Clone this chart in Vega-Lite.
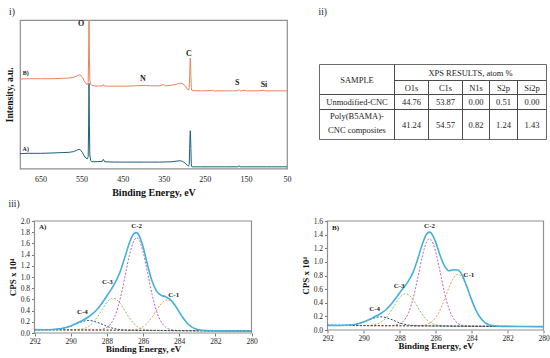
{
  "$schema": "https://vega.github.io/schema/vega-lite/v6.json",
  "padding": {"left": 3, "top": 5, "right": 2, "bottom": 2},
  "background": "white",
  "config": {
    "font": "Liberation Serif",
    "view": {"stroke": "#8f8f8f", "strokeWidth": 1.2},
    "axis": {"domain": false, "grid": false, "labelFont": "Liberation Serif", "titleFont": "Liberation Serif", "labelColor": "#222", "titleColor": "#111", "tickColor": "#777", "tickSize": 3, "labelFontSize": 8, "titleFontSize": 9.5, "titleFontWeight": "bold", "labelOverlap": false, "labelFlush": false, "labelBound": false},
    "title": {"font": "Liberation Serif", "fontSize": 9.5, "fontWeight": "normal", "anchor": "start", "frame": "group", "color": "#222"}
  },
  "datasets": {
    "survey": [
      {"s":"B","be":700,"i":265},{"s":"B","be":680,"i":266},{"s":"B","be":650,"i":266},{"s":"B","be":620,"i":266},{"s":"B","be":600,"i":267},{"s":"B","be":580,"i":268},{"s":"B","be":570,"i":270},{"s":"B","be":562,"i":274},{"s":"B","be":556,"i":278},{"s":"B","be":552,"i":276},{"s":"B","be":548,"i":270},{"s":"B","be":544,"i":260},{"s":"B","be":540,"i":252},{"s":"B","be":536,"i":249},{"s":"B","be":534,"i":255},{"s":"B","be":533,"i":330},{"s":"B","be":532,"i":460},{"s":"B","be":531,"i":330},{"s":"B","be":530,"i":262},{"s":"B","be":528,"i":250},{"s":"B","be":525,"i":246},{"s":"B","be":515,"i":244},{"s":"B","be":500,"i":245},{"s":"B","be":497,"i":249},{"s":"B","be":494,"i":244},{"s":"B","be":470,"i":244},{"s":"B","be":440,"i":244},{"s":"B","be":420,"i":245},{"s":"B","be":400,"i":246},{"s":"B","be":380,"i":245},{"s":"B","be":360,"i":245},{"s":"B","be":353,"i":248},{"s":"B","be":349,"i":247},{"s":"B","be":345,"i":245},{"s":"B","be":330,"i":247},{"s":"B","be":318,"i":250},{"s":"B","be":310,"i":253},{"s":"B","be":304,"i":251},{"s":"B","be":298,"i":245},{"s":"B","be":293,"i":236},{"s":"B","be":290,"i":232},{"s":"B","be":288,"i":240},{"s":"B","be":287,"i":275},{"s":"B","be":286,"i":310},{"s":"B","be":285.5,"i":327},{"s":"B","be":285,"i":320},{"s":"B","be":284,"i":275},{"s":"B","be":283,"i":240},{"s":"B","be":282,"i":232},{"s":"B","be":280,"i":231},{"s":"B","be":260,"i":230},{"s":"B","be":233,"i":231},{"s":"B","be":230,"i":232},{"s":"B","be":227,"i":230},{"s":"B","be":200,"i":230},{"s":"B","be":180,"i":230},{"s":"B","be":170,"i":231},{"s":"B","be":167,"i":234},{"s":"B","be":164,"i":230},{"s":"B","be":152,"i":232},{"s":"B","be":148,"i":230},{"s":"B","be":120,"i":230},{"s":"B","be":106,"i":232},{"s":"B","be":103,"i":230},{"s":"B","be":80,"i":230},{"s":"B","be":50,"i":230},
      {"s":"A","be":700,"i":44},{"s":"A","be":680,"i":45},{"s":"A","be":650,"i":45},{"s":"A","be":620,"i":46},{"s":"A","be":600,"i":47},{"s":"A","be":580,"i":48},{"s":"A","be":570,"i":50},{"s":"A","be":562,"i":54},{"s":"A","be":556,"i":57},{"s":"A","be":552,"i":54},{"s":"A","be":548,"i":47},{"s":"A","be":544,"i":38},{"s":"A","be":540,"i":31},{"s":"A","be":536,"i":29},{"s":"A","be":534,"i":35},{"s":"A","be":533,"i":120},{"s":"A","be":532,"i":252},{"s":"A","be":531,"i":130},{"s":"A","be":530,"i":40},{"s":"A","be":528,"i":24},{"s":"A","be":525,"i":20},{"s":"A","be":515,"i":20},{"s":"A","be":500,"i":21},{"s":"A","be":497,"i":27},{"s":"A","be":494,"i":20},{"s":"A","be":470,"i":19},{"s":"A","be":440,"i":19},{"s":"A","be":400,"i":19},{"s":"A","be":360,"i":19},{"s":"A","be":330,"i":20},{"s":"A","be":318,"i":22},{"s":"A","be":310,"i":23},{"s":"A","be":304,"i":21},{"s":"A","be":298,"i":16},{"s":"A","be":293,"i":10},{"s":"A","be":290,"i":7},{"s":"A","be":288,"i":12},{"s":"A","be":287,"i":60},{"s":"A","be":286,"i":100},{"s":"A","be":285.5,"i":112},{"s":"A","be":285,"i":105},{"s":"A","be":284,"i":60},{"s":"A","be":283,"i":15},{"s":"A","be":282,"i":6},{"s":"A","be":280,"i":5},{"s":"A","be":260,"i":5},{"s":"A","be":200,"i":5},{"s":"A","be":170,"i":5},{"s":"A","be":167,"i":8},{"s":"A","be":164,"i":5},{"s":"A","be":100,"i":5},{"s":"A","be":50,"i":5}
    ],
    "surveyLabels": [
      {"t":"O","be":551,"i":427,"fs":8},{"t":"N","be":401,"i":265,"fs":8},{"t":"C","be":289,"i":339,"fs":8},{"t":"S","be":171,"i":253,"fs":8},{"t":"Si","be":106,"i":247,"fs":8},{"t":"B)","be":686,"i":284,"fs":6},{"t":"A)","be":686,"i":59,"fs":6}
    ],
    "table": [
      {"t":"SAMPLE","b":1,"x0":0,"x1":75,"y0":0,"y1":30},
      {"t":"XPS RESULTS, atom %","b":1,"x0":75,"x1":227,"y0":0,"y1":16},
      {"t":"O1s","b":1,"x0":75,"x1":109,"y0":16,"y1":30},
      {"t":"C1s","b":1,"x0":109,"x1":143,"y0":16,"y1":30},
      {"t":"N1s","b":1,"x0":143,"x1":170,"y0":16,"y1":30},
      {"t":"S2p","b":1,"x0":170,"x1":198,"y0":16,"y1":30},
      {"t":"Si2p","b":1,"x0":198,"x1":227,"y0":16,"y1":30},
      {"t":"Unmodified-CNC","b":1,"x0":0,"x1":75,"y0":30,"y1":45},
      {"t":"44.76","b":1,"x0":75,"x1":109,"y0":30,"y1":45},
      {"t":"53.87","b":1,"x0":109,"x1":143,"y0":30,"y1":45},
      {"t":"0.00","b":1,"x0":143,"x1":170,"y0":30,"y1":45},
      {"t":"0.51","b":1,"x0":170,"x1":198,"y0":30,"y1":45},
      {"t":"0.00","b":1,"x0":198,"x1":227,"y0":30,"y1":45},
      {"t":"","b":1,"x0":0,"x1":75,"y0":45,"y1":75},
      {"t":"Poly(B5AMA)-","b":0,"x0":0,"x1":75,"y0":45,"y1":58},
      {"t":"CNC composites","b":0,"x0":0,"x1":75,"y0":58,"y1":72},
      {"t":"41.24","b":1,"x0":75,"x1":109,"y0":45,"y1":75},
      {"t":"54.57","b":1,"x0":109,"x1":143,"y0":45,"y1":75},
      {"t":"0.82","b":1,"x0":143,"x1":170,"y0":45,"y1":75},
      {"t":"1.24","b":1,"x0":170,"x1":198,"y0":45,"y1":75},
      {"t":"1.43","b":1,"x0":198,"x1":227,"y0":45,"y1":75}
    ],
    "frames": [
      {"p":"A","x":292,"x2":280,"y":0,"y2":2},
      {"p":"B","x":292,"x2":280,"y":0,"y2":1.6}
    ],
    "xps": [
      {"p":"A","s":"T","x":292,"y":0.06},{"p":"A","s":"T","x":291.5,"y":0.059},{"p":"A","s":"T","x":291,"y":0.062},{"p":"A","s":"T","x":290.5,"y":0.079},{"p":"A","s":"T","x":290,"y":0.125},{"p":"A","s":"T","x":289.5,"y":0.2},{"p":"A","s":"T","x":289,"y":0.29},{"p":"A","s":"T","x":288.5,"y":0.434},{"p":"A","s":"T","x":288,"y":0.661},{"p":"A","s":"T","x":287.75,"y":0.784},{"p":"A","s":"T","x":287.5,"y":0.923},{"p":"A","s":"T","x":287.25,"y":1.108},{"p":"A","s":"T","x":287,"y":1.355},{"p":"A","s":"T","x":286.75,"y":1.612},{"p":"A","s":"T","x":286.5,"y":1.777},{"p":"A","s":"T","x":286.35,"y":1.793},{"p":"A","s":"T","x":286.25,"y":1.76},{"p":"A","s":"T","x":286,"y":1.544},{"p":"A","s":"T","x":285.75,"y":1.217},{"p":"A","s":"T","x":285.5,"y":0.927},{"p":"A","s":"T","x":285.25,"y":0.747},{"p":"A","s":"T","x":285,"y":0.675},{"p":"A","s":"T","x":284.75,"y":0.647},{"p":"A","s":"T","x":284.5,"y":0.599},{"p":"A","s":"T","x":284.25,"y":0.504},{"p":"A","s":"T","x":284,"y":0.377},{"p":"A","s":"T","x":283.75,"y":0.254},{"p":"A","s":"T","x":283.5,"y":0.157},{"p":"A","s":"T","x":283,"y":0.063},{"p":"A","s":"T","x":282.5,"y":0.042},{"p":"A","s":"T","x":282,"y":0.039},{"p":"A","s":"T","x":281,"y":0.037},{"p":"A","s":"T","x":280,"y":0.035},
      {"p":"A","s":"C-4","x":292,"y":0.06},{"p":"A","s":"C-4","x":291,"y":0.062},{"p":"A","s":"C-4","x":290.5,"y":0.079},{"p":"A","s":"C-4","x":290,"y":0.124},{"p":"A","s":"C-4","x":289.5,"y":0.19},{"p":"A","s":"C-4","x":289,"y":0.224},{"p":"A","s":"C-4","x":288.5,"y":0.188},{"p":"A","s":"C-4","x":288,"y":0.12},{"p":"A","s":"C-4","x":287.75,"y":0.092},{"p":"A","s":"C-4","x":287.5,"y":0.073},{"p":"A","s":"C-4","x":287.25,"y":0.061},{"p":"A","s":"C-4","x":287,"y":0.054},{"p":"A","s":"C-4","x":286.5,"y":0.049},{"p":"A","s":"C-4","x":280,"y":0.035},
      {"p":"A","s":"C-2","x":292,"y":0.06},{"p":"A","s":"C-2","x":289,"y":0.054},{"p":"A","s":"C-2","x":288.5,"y":0.057},{"p":"A","s":"C-2","x":288,"y":0.1},{"p":"A","s":"C-2","x":287.75,"y":0.18},{"p":"A","s":"C-2","x":287.5,"y":0.345},{"p":"A","s":"C-2","x":287.25,"y":0.626},{"p":"A","s":"C-2","x":287,"y":1.003},{"p":"A","s":"C-2","x":286.75,"y":1.39},{"p":"A","s":"C-2","x":286.5,"y":1.648},{"p":"A","s":"C-2","x":286.35,"y":1.698},{"p":"A","s":"C-2","x":286.25,"y":1.678},{"p":"A","s":"C-2","x":286,"y":1.457},{"p":"A","s":"C-2","x":285.75,"y":1.077},{"p":"A","s":"C-2","x":285.5,"y":0.691},{"p":"A","s":"C-2","x":285.25,"y":0.388},{"p":"A","s":"C-2","x":285,"y":0.199},{"p":"A","s":"C-2","x":284.75,"y":0.104},{"p":"A","s":"C-2","x":284.5,"y":0.063},{"p":"A","s":"C-2","x":284,"y":0.044},{"p":"A","s":"C-2","x":282,"y":0.039},{"p":"A","s":"C-2","x":280,"y":0.035},
      {"p":"A","s":"C-1","x":292,"y":0.06},{"p":"A","s":"C-1","x":288,"y":0.052},{"p":"A","s":"C-1","x":287,"y":0.051},{"p":"A","s":"C-1","x":286.5,"y":0.058},{"p":"A","s":"C-1","x":286,"y":0.111},{"p":"A","s":"C-1","x":285.75,"y":0.179},{"p":"A","s":"C-1","x":285.5,"y":0.28},{"p":"A","s":"C-1","x":285.25,"y":0.405},{"p":"A","s":"C-1","x":285,"y":0.521},{"p":"A","s":"C-1","x":284.75,"y":0.588},{"p":"A","s":"C-1","x":284.65,"y":0.595},{"p":"A","s":"C-1","x":284.5,"y":0.58},{"p":"A","s":"C-1","x":284.25,"y":0.499},{"p":"A","s":"C-1","x":284,"y":0.377},{"p":"A","s":"C-1","x":283.75,"y":0.254},{"p":"A","s":"C-1","x":283.5,"y":0.157},{"p":"A","s":"C-1","x":283,"y":0.063},{"p":"A","s":"C-1","x":282.5,"y":0.042},{"p":"A","s":"C-1","x":282,"y":0.039},{"p":"A","s":"C-1","x":280,"y":0.035},
      {"p":"A","s":"C-3","x":292,"y":0.06},{"p":"A","s":"C-3","x":290,"y":0.057},{"p":"A","s":"C-3","x":289.5,"y":0.065},{"p":"A","s":"C-3","x":289,"y":0.12},{"p":"A","s":"C-3","x":288.75,"y":0.19},{"p":"A","s":"C-3","x":288.5,"y":0.295},{"p":"A","s":"C-3","x":288.25,"y":0.424},{"p":"A","s":"C-3","x":288,"y":0.545},{"p":"A","s":"C-3","x":287.75,"y":0.614},{"p":"A","s":"C-3","x":287.65,"y":0.62},{"p":"A","s":"C-3","x":287.5,"y":0.606},{"p":"A","s":"C-3","x":287.25,"y":0.521},{"p":"A","s":"C-3","x":287,"y":0.396},{"p":"A","s":"C-3","x":286.75,"y":0.267},{"p":"A","s":"C-3","x":286.5,"y":0.168},{"p":"A","s":"C-3","x":286,"y":0.07},{"p":"A","s":"C-3","x":285.5,"y":0.048},{"p":"A","s":"C-3","x":284,"y":0.043},{"p":"A","s":"C-3","x":280,"y":0.035},
      {"p":"A","s":"BL","x":292,"y":0.06},{"p":"A","s":"BL","x":280,"y":0.035},
      {"p":"B","s":"T","x":292,"y":0.068},{"p":"B","s":"T","x":291.5,"y":0.067},{"p":"B","s":"T","x":291,"y":0.07},{"p":"B","s":"T","x":290.5,"y":0.081},{"p":"B","s":"T","x":290,"y":0.117},{"p":"B","s":"T","x":289.5,"y":0.178},{"p":"B","s":"T","x":289,"y":0.25},{"p":"B","s":"T","x":288.75,"y":0.297},{"p":"B","s":"T","x":288.5,"y":0.366},{"p":"B","s":"T","x":288.25,"y":0.45},{"p":"B","s":"T","x":288,"y":0.542},{"p":"B","s":"T","x":287.75,"y":0.629},{"p":"B","s":"T","x":287.5,"y":0.72},{"p":"B","s":"T","x":287.25,"y":0.846},{"p":"B","s":"T","x":287,"y":1.031},{"p":"B","s":"T","x":286.75,"y":1.245},{"p":"B","s":"T","x":286.5,"y":1.406},{"p":"B","s":"T","x":286.33,"y":1.437},{"p":"B","s":"T","x":286.25,"y":1.426},{"p":"B","s":"T","x":286,"y":1.297},{"p":"B","s":"T","x":285.75,"y":1.099},{"p":"B","s":"T","x":285.5,"y":0.941},{"p":"B","s":"T","x":285.25,"y":0.87},{"p":"B","s":"T","x":285,"y":0.885},{"p":"B","s":"T","x":284.75,"y":0.88},{"p":"B","s":"T","x":284.5,"y":0.795},{"p":"B","s":"T","x":284.25,"y":0.63},{"p":"B","s":"T","x":284,"y":0.446},{"p":"B","s":"T","x":283.75,"y":0.289},{"p":"B","s":"T","x":283.5,"y":0.175},{"p":"B","s":"T","x":283.25,"y":0.108},{"p":"B","s":"T","x":283,"y":0.074},{"p":"B","s":"T","x":282.5,"y":0.056},{"p":"B","s":"T","x":282,"y":0.053},{"p":"B","s":"T","x":281,"y":0.052},{"p":"B","s":"T","x":280,"y":0.05},
      {"p":"B","s":"C-2","x":292,"y":0.068},{"p":"B","s":"C-2","x":289,"y":0.064},{"p":"B","s":"C-2","x":288.5,"y":0.065},{"p":"B","s":"C-2","x":288,"y":0.089},{"p":"B","s":"C-2","x":287.75,"y":0.139},{"p":"B","s":"C-2","x":287.5,"y":0.252},{"p":"B","s":"C-2","x":287.25,"y":0.456},{"p":"B","s":"C-2","x":287,"y":0.746},{"p":"B","s":"C-2","x":286.75,"y":1.062},{"p":"B","s":"C-2","x":286.5,"y":1.29},{"p":"B","s":"C-2","x":286.33,"y":1.339},{"p":"B","s":"C-2","x":286.25,"y":1.328},{"p":"B","s":"C-2","x":286,"y":1.159},{"p":"B","s":"C-2","x":285.75,"y":0.86},{"p":"B","s":"C-2","x":285.5,"y":0.549},{"p":"B","s":"C-2","x":285.25,"y":0.311},{"p":"B","s":"C-2","x":285,"y":0.167},{"p":"B","s":"C-2","x":284.75,"y":0.097},{"p":"B","s":"C-2","x":284.5,"y":0.069},{"p":"B","s":"C-2","x":284,"y":0.056},{"p":"B","s":"C-2","x":280,"y":0.05},
      {"p":"B","s":"C-1","x":292,"y":0.068},{"p":"B","s":"C-1","x":287.5,"y":0.061},{"p":"B","s":"C-1","x":287,"y":0.062},{"p":"B","s":"C-1","x":286.75,"y":0.067},{"p":"B","s":"C-1","x":286.5,"y":0.08},{"p":"B","s":"C-1","x":286.25,"y":0.112},{"p":"B","s":"C-1","x":286,"y":0.179},{"p":"B","s":"C-1","x":285.75,"y":0.291},{"p":"B","s":"C-1","x":285.5,"y":0.448},{"p":"B","s":"C-1","x":285.25,"y":0.623},{"p":"B","s":"C-1","x":285,"y":0.763},{"p":"B","s":"C-1","x":284.75,"y":0.817},{"p":"B","s":"C-1","x":284.5,"y":0.763},{"p":"B","s":"C-1","x":284.25,"y":0.621},{"p":"B","s":"C-1","x":284,"y":0.446},{"p":"B","s":"C-1","x":283.75,"y":0.289},{"p":"B","s":"C-1","x":283.5,"y":0.175},{"p":"B","s":"C-1","x":283.25,"y":0.108},{"p":"B","s":"C-1","x":283,"y":0.074},{"p":"B","s":"C-1","x":282.5,"y":0.056},{"p":"B","s":"C-1","x":280,"y":0.05},
      {"p":"B","s":"C-3","x":292,"y":0.068},{"p":"B","s":"C-3","x":290,"y":0.066},{"p":"B","s":"C-3","x":289.5,"y":0.073},{"p":"B","s":"C-3","x":289,"y":0.12},{"p":"B","s":"C-3","x":288.75,"y":0.178},{"p":"B","s":"C-3","x":288.5,"y":0.267},{"p":"B","s":"C-3","x":288.25,"y":0.373},{"p":"B","s":"C-3","x":288,"y":0.472},{"p":"B","s":"C-3","x":287.75,"y":0.527},{"p":"B","s":"C-3","x":287.66,"y":0.531},{"p":"B","s":"C-3","x":287.5,"y":0.517},{"p":"B","s":"C-3","x":287.25,"y":0.446},{"p":"B","s":"C-3","x":287,"y":0.341},{"p":"B","s":"C-3","x":286.75,"y":0.236},{"p":"B","s":"C-3","x":286.5,"y":0.156},{"p":"B","s":"C-3","x":286.25,"y":0.104},{"p":"B","s":"C-3","x":286,"y":0.077},{"p":"B","s":"C-3","x":285.75,"y":0.064},{"p":"B","s":"C-3","x":285.5,"y":0.06},{"p":"B","s":"C-3","x":280,"y":0.05},
      {"p":"B","s":"C-4","x":292,"y":0.068},{"p":"B","s":"C-4","x":291,"y":0.07},{"p":"B","s":"C-4","x":290.5,"y":0.081},{"p":"B","s":"C-4","x":290,"y":0.116},{"p":"B","s":"C-4","x":289.5,"y":0.169},{"p":"B","s":"C-4","x":289.04,"y":0.194},{"p":"B","s":"C-4","x":288.5,"y":0.16},{"p":"B","s":"C-4","x":288,"y":0.105},{"p":"B","s":"C-4","x":287.75,"y":0.085},{"p":"B","s":"C-4","x":287.5,"y":0.073},{"p":"B","s":"C-4","x":287.25,"y":0.066},{"p":"B","s":"C-4","x":287,"y":0.062},{"p":"B","s":"C-4","x":280,"y":0.05},
      {"p":"B","s":"BL","x":292,"y":0.068},{"p":"B","s":"BL","x":280,"y":0.05}
    ],
    "xpsLabels": [
      {"p":"A","t":"A)","x":291.55,"y":1.9},{"p":"A","t":"C-2","x":286.35,"y":1.91},{"p":"A","t":"C-3","x":287.97,"y":0.91},{"p":"A","t":"C-1","x":284.3,"y":0.68},{"p":"A","t":"C-4","x":289.35,"y":0.38},
      {"p":"B","t":"B)","x":291.55,"y":1.5},{"p":"B","t":"C-2","x":286.33,"y":1.52},{"p":"B","t":"C-3","x":288.02,"y":0.64},{"p":"B","t":"C-1","x":284.15,"y":0.81},{"p":"B","t":"C-4","x":289.38,"y":0.31}
    ]
  },
  "columns": 2,
  "align": "each",
  "bounds": "flush",
  "spacing": {"row": 52, "column": 32.5},
  "concat": [
    {
      "width": 267, "height": 148.5,
      "title": {"text": "i)", "dx": -11, "frame": "group"},
      "encoding": {
        "x": {"field": "be", "type": "quantitative", "scale": {"domain": [700, 50], "nice": false, "zero": false}, "axis": {"values": [650, 550, 450, 350, 250, 150, 50], "title": "Binding Energy, eV", "ticks": false, "labelPadding": 7, "titlePadding": 4, "titleFontSize": 10, "labelOverlap": false, "labelFlush": false}},
        "y": {"field": "i", "type": "quantitative", "scale": {"domain": [0, 440], "nice": false, "zero": false}, "axis": {"labels": false, "ticks": false, "title": "Intensity, a.u.", "titlePadding": 6, "titleFontSize": 9.5}}
      },
      "layer": [
        {
          "data": {"name": "survey"},
          "mark": {"type": "line", "strokeWidth": 1, "clip": true},
          "encoding": {
            "color": {"field": "s", "type": "nominal", "scale": {"domain": ["A", "B", "C-1", "C-2", "C-3", "C-4", "BL", "T"], "range": ["#1d5f7c", "#e8845c", "#f59a57", "#c05fc0", "#8fbf5a", "#1f4e79", "#444444", "#44b0dc"]}, "legend": null}
          }
        },
        {
          "data": {"name": "surveyLabels"},
          "mark": {"type": "text", "fontWeight": "bold", "color": "#222"},
          "encoding": {
            "text": {"field": "t"},
            "size": {"field": "fs", "type": "quantitative", "scale": null}
          }
        }
      ]
    },
    {
      "width": 227, "height": 148.5,
      "title": {"text": "ii)", "dx": -1, "frame": "group"},
      "view": {"stroke": null},
      "data": {"name": "table"},
      "transform": [
        {"calculate": "(datum.x0+datum.x1)/2", "as": "xc"},
        {"calculate": "(datum.y0+datum.y1)/2", "as": "yc"}
      ],
      "layer": [
        {
          "transform": [{"filter": "datum.b == 1"}],
          "mark": {"type": "rect", "fill": "transparent", "stroke": "#444", "strokeWidth": 0.8},
          "encoding": {
            "x": {"field": "x0", "type": "quantitative", "scale": {"domain": [0, 227], "nice": false, "zero": false}, "axis": null},
            "x2": {"field": "x1"},
            "y": {"field": "y0", "type": "quantitative", "scale": {"domain": [104, -44.5], "nice": false, "zero": false}, "axis": null},
            "y2": {"field": "y1"}
          }
        },
        {
          "mark": {"type": "text", "fontSize": 8.5, "color": "#222", "baseline": "middle"},
          "encoding": {
            "x": {"field": "xc", "type": "quantitative", "axis": null},
            "y": {"field": "yc", "type": "quantitative", "axis": null},
            "text": {"field": "t"}
          }
        }
      ]
    },
    {
      "width": 231.5, "height": 112,
      "view": {"stroke": null},
      "title": {"text": "iii)", "dx": -11.5, "offset": 9, "frame": "group"},
      "encoding": {
        "x": {"field": "x", "type": "quantitative", "scale": {"domain": [292, 280], "range": [14.5, 231.5], "nice": false, "zero": false}, "axis": {"values": [292, 290, 288, 286, 284, 282, 280], "title": "Binding Energy, eV", "labelPadding": 1, "titlePadding": 0, "labelFontSize": 7.5, "titleFontSize": 9, "labelOverlap": false, "labelFlush": false}},
        "y": {"field": "y", "type": "quantitative", "scale": {"domain": [0, 2], "nice": false, "zero": false}, "axis": {"values": [0, 0.2, 0.4, 0.6, 0.8, 1, 1.2, 1.4, 1.6, 1.8, 2], "format": ".1f", "title": "CPS x 10⁴", "offset": -14.5, "labelPadding": 2, "titlePadding": 3, "labelFontSize": 7.5, "titleFontSize": 9, "labelOverlap": false, "labelFlush": false}}
      },
      "layer": [
        {
          "data": {"name": "frames"},
          "transform": [{"filter": "datum.p == 'A'"}],
          "mark": {"type": "rect", "fill": "transparent", "stroke": "#8f8f8f", "strokeWidth": 1.2},
          "encoding": {"x2": {"field": "x2"}, "y2": {"field": "y2"}}
        },
        {
          "data": {"name": "xps"},
          "transform": [{"filter": "datum.p == 'A' && datum.s != 'T'"}],
          "mark": {"type": "line", "strokeWidth": 1, "strokeDash": [2, 1.6], "interpolate": "monotone"},
          "encoding": {
            "color": {"field": "s", "type": "nominal", "scale": {"domain": ["A", "B", "C-1", "C-2", "C-3", "C-4", "BL", "T"], "range": ["#1d5f7c", "#e8845c", "#f59a57", "#c05fc0", "#8fbf5a", "#1f4e79", "#444444", "#44b0dc"]}, "legend": null}
          }
        },
        {
          "data": {"name": "xps"},
          "transform": [{"filter": "datum.p == 'A' && datum.s == 'T'"}],
          "mark": {"type": "line", "strokeWidth": 1.6, "interpolate": "monotone", "color": "#44b0dc"},
          "encoding": {}
        },
        {
          "data": {"name": "xpsLabels"},
          "transform": [{"filter": "datum.p == 'A'"}],
          "mark": {"type": "text", "fontWeight": "bold", "fontSize": 7, "color": "#222"},
          "encoding": {"text": {"field": "t"}}
        }
      ]
    },
    {
      "width": 224, "height": 109,
      "view": {"stroke": null},
      "encoding": {
        "x": {"field": "x", "type": "quantitative", "scale": {"domain": [292, 280], "range": [8, 224], "nice": false, "zero": false}, "axis": {"values": [292, 290, 288, 286, 284, 282, 280], "title": "Binding Energy, eV", "labelPadding": 1, "titlePadding": 0, "labelFontSize": 7.5, "titleFontSize": 9, "labelOverlap": false, "labelFlush": false}},
        "y": {"field": "y", "type": "quantitative", "scale": {"domain": [0, 1.6], "nice": false, "zero": false}, "axis": {"values": [0, 0.2, 0.4, 0.6, 0.8, 1, 1.2, 1.4, 1.6], "format": ".1f", "title": "CPS x 10⁴", "offset": -8, "labelPadding": 2, "titlePadding": 3, "labelFontSize": 7.5, "titleFontSize": 9, "labelOverlap": false, "labelFlush": false}}
      },
      "layer": [
        {
          "data": {"name": "frames"},
          "transform": [{"filter": "datum.p == 'B'"}],
          "mark": {"type": "rect", "fill": "transparent", "stroke": "#8f8f8f", "strokeWidth": 1.2},
          "encoding": {"x2": {"field": "x2"}, "y2": {"field": "y2"}}
        },
        {
          "data": {"name": "xps"},
          "transform": [{"filter": "datum.p == 'B' && datum.s != 'T'"}],
          "mark": {"type": "line", "strokeWidth": 1, "strokeDash": [2, 1.6], "interpolate": "monotone"},
          "encoding": {
            "color": {"field": "s", "type": "nominal", "scale": {"domain": ["A", "B", "C-1", "C-2", "C-3", "C-4", "BL", "T"], "range": ["#1d5f7c", "#e8845c", "#f59a57", "#c05fc0", "#8fbf5a", "#1f4e79", "#444444", "#44b0dc"]}, "legend": null}
          }
        },
        {
          "data": {"name": "xps"},
          "transform": [{"filter": "datum.p == 'B' && datum.s == 'T'"}],
          "mark": {"type": "line", "strokeWidth": 1.6, "interpolate": "monotone", "color": "#44b0dc"},
          "encoding": {}
        },
        {
          "data": {"name": "xpsLabels"},
          "transform": [{"filter": "datum.p == 'B'"}],
          "mark": {"type": "text", "fontWeight": "bold", "fontSize": 7, "color": "#222"},
          "encoding": {"text": {"field": "t"}}
        }
      ]
    }
  ]
}
